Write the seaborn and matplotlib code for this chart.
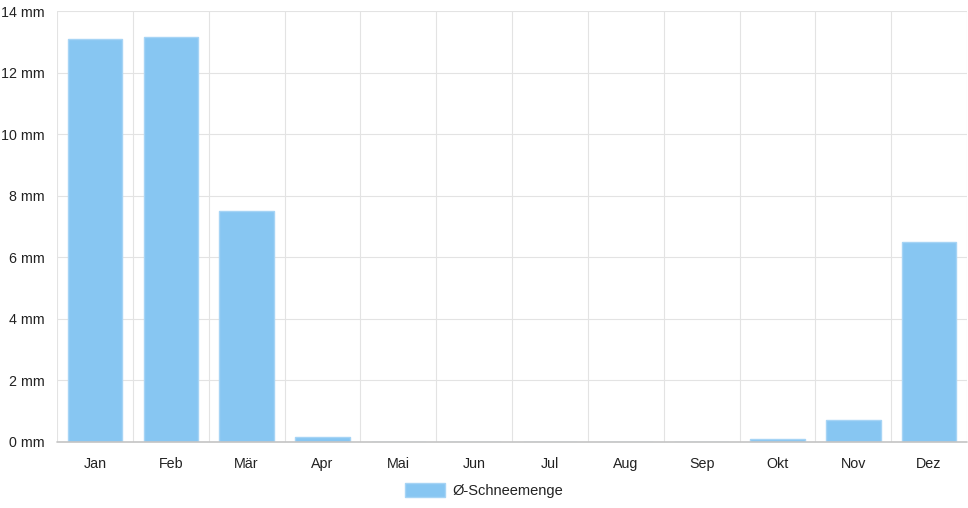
import numpy as np
import pandas as pd
import matplotlib
matplotlib.use('Agg')
import matplotlib.pyplot as plt
import seaborn as sns

# Monatswerte der Schneemenge (mm)
monate = ['Jan', 'Feb', 'Mär', 'Apr', 'Mai', 'Jun', 'Jul', 'Aug', 'Sep', 'Okt', 'Nov', 'Dez']
schnee = [13.1, 13.15, 7.5, 0.15, 0, 0, 0, 0, 0, 0.1, 0.7, 6.5]
y_ticks = [0, 2, 4, 6, 8, 10, 12, 14]
serie = 'Ø-Schneemenge'

df = pd.DataFrame({'Monat': monate, 'Schnee': schnee})

sns.set_style('white')
plt.rcParams['font.family'] = ['Liberation Sans', 'DejaVu Sans']

fig = plt.figure(figsize=(9.68, 5.08), dpi=100)
ax = fig.add_axes([0.059, 0.13, 0.94, 0.848])

sns.barplot(data=df, x='Monat', y='Schnee', color='#87c6f2', saturation=1,
            width=0.72, edgecolor='#a6d4f5', linewidth=1, ax=ax, label=serie, zorder=3)

grid_c = '#e3e3e3'
ax.set_ylim(0, 14)
ax.set_xlim(-0.5, len(monate) - 0.5)
ax.set_yticks(y_ticks)
ax.set_yticklabels([f'{v} mm' for v in y_ticks])
for v in y_ticks[1:]:
    ax.axhline(v, color=grid_c, lw=0.8, zorder=1)
for i in range(len(monate) + 1):
    ax.axvline(i - 0.5, color=grid_c, lw=0.8, zorder=1)
ax.axhline(0, color='#c4c4c4', lw=1.2, zorder=4, clip_on=False)

ax.set_xticks(np.arange(len(monate) + 1) - 0.5, minor=True)
ax.tick_params(axis='x', which='minor', length=8, color=grid_c, width=0.8)
ax.tick_params(axis='x', which='major', length=0, pad=11, labelsize=10.3, labelcolor='#222222')
ax.tick_params(axis='y', length=7, color=grid_c, width=0.8, pad=2, labelsize=10.3, labelcolor='#222222')
ax.set_xlabel('')
ax.set_ylabel('')
for s in ax.spines.values():
    s.set_visible(False)

handles, labels = ax.get_legend_handles_labels()
if ax.get_legend():
    ax.get_legend().remove()
fig.legend(handles, labels, loc='center', bbox_to_anchor=(0.5, 0.035), frameon=False,
           fontsize=10.5, handlelength=2.8, handleheight=1.1, handletextpad=0.5,
           labelcolor='#222222')

fig.savefig('out.png', dpi=100)
